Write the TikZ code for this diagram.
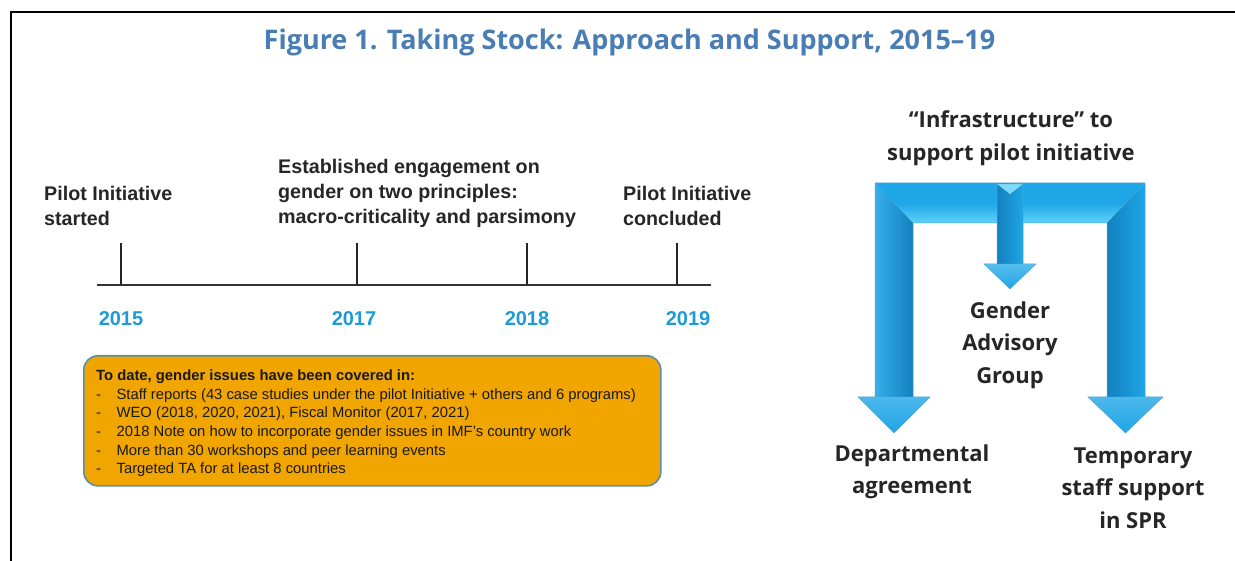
\documentclass[tikz,border=0pt]{standalone}
\usepackage{fontspec}
\setmainfont{Liberation Sans}
\newfontfamily\opfont{Open Sans}
\usetikzlibrary{shapes.misc}
\definecolor{titleblue}{HTML}{4A7DB3}
\definecolor{yearblue}{HTML}{1E9BD7}
\definecolor{arrowblue}{HTML}{1FA6E6}
\definecolor{arrowdark}{HTML}{1380BE}
\definecolor{arrowlight}{HTML}{5FD2FA}
\definecolor{boxorange}{HTML}{F0A500}
\definecolor{boxedge}{HTML}{5B8FA8}
\tikzset{
  frame/.style={line width=2.5pt, black},
  tltext/.style={font=\bfseries\fontsize{19.7}{25}\selectfont, align=left, anchor=west, inner sep=0pt, text=black!85},
  yeartext/.style={font=\bfseries\fontsize{20}{24}\selectfont, text=yearblue, inner sep=0pt},
  tick/.style={line width=2pt, black!85},
  axis/.style={line width=2.5pt, black!80},
  infobox/.style={draw=boxedge, line width=1.6pt, fill=boxorange, rounded corners=14pt},
  boxtext/.style={font=\fontsize{14.8}{18.7}\selectfont, align=left, anchor=north west, inner sep=0pt, text=black!90},
  righttext/.style={font=\opfont\bfseries\fontsize{22}{32.5}\selectfont, align=center, inner sep=0pt, text=black!85},
  arrowedge/.style={draw=arrowdark!70, line width=0.5pt, line join=miter},
}
\newcommand{\bul}{-\hspace{15.5pt}}
\begin{document}
\begin{tikzpicture}[x=1pt,y=-1pt]
\useasboundingbox (0,0) rectangle (1235,561);
\fill[white] (0,0) rectangle (1235,561);
% frame
\draw[frame] (11,575) -- (11,12) -- (1245,12);
% title
\node[font=\opfont\bfseries\fontsize{27}{30}\selectfont, text=titleblue, inner sep=0pt] (title) at (629.5,42) {Figure 1. Taking Stock: Approach and Support, 2015–19};

% timeline
\coordinate (axL) at (97,285);
\coordinate (axR) at (711,285);
\draw[axis] (axL) -- (axR);
\coordinate (t15) at (121,285);
\coordinate (t17) at (357,285);
\coordinate (t18) at (527,285);
\coordinate (t19) at (677,285);
\coordinate (t15u) at (121,243);
\coordinate (t17u) at (357,243);
\coordinate (t18u) at (527,243);
\coordinate (t19u) at (677,243);
\draw[tick] (t15) -- (t15u);
\draw[tick] (t17) -- (t17u);
\draw[tick] (t18) -- (t18u);
\draw[tick] (t19) -- (t19u);
\node[yeartext] (y15) at (121,319) {2015};
\node[yeartext] (y17) at (354,319) {2017};
\node[yeartext] (y18) at (527,319) {2018};
\node[yeartext] (y19) at (688,319) {2019};

\node[tltext] (e15) at (44,205.5) {Pilot Initiative\\started};
\node[tltext] (e17) at (278,193) {Established engagement on\\gender on two principles:\\macro-criticality and parsimony};
\node[tltext] (e19) at (623,205.5) {Pilot Initiative\\concluded};

% info box
\node[infobox, minimum width=577pt, minimum height=130pt, anchor=north west] (box) at (83,355) {};
\node[boxtext] (boxtxt) at (96,369.5) {\textbf{To date, gender issues have been covered in:}\\
\bul Staff reports (43 case studies under the pilot Initiative + others and 6 programs)\\
\bul WEO (2018, 2020, 2021), Fiscal Monitor (2017, 2021)\\
\bul 2018 Note on how to incorporate gender issues in IMF's country work\\
\bul More than 30 workshops and peer learning events\\
\bul Targeted TA for at least 8 countries};

% right side
\node[righttext] (infra) at (1011,138) {“Infrastructure” to\\support pilot initiative};

% big arrow: bar
\shade[top color=arrowblue, bottom color=arrowlight, middle color=arrowblue] (875,183) -- (1145,183) -- (1107,223) -- (913,223) -- cycle;
% left shaft
\shade[left color=arrowblue!90!white, right color=arrowdark] (875,183) -- (913,223) -- (913,397) -- (875,397) -- cycle;
% right shaft
\shade[left color=arrowdark, right color=arrowblue] (1145,183) -- (1107,223) -- (1107,397) -- (1145,397) -- cycle;
% heads
\shade[top color=arrowblue!80!white, bottom color=arrowblue] (858,397) -- (930,397) -- (894,433) -- cycle;
\shade[top color=arrowblue!80!white, bottom color=arrowblue] (1088,397) -- (1163,397) -- (1125.5,433) -- cycle;
\draw[arrowedge] (875,183) -- (1145,183) -- (1145,397) -- (1163,397) -- (1125.5,433)
  -- (1088,397) -- (1107,397) -- (1107,223) -- (913,223) -- (913,397) -- (930,397)
  -- (894,433) -- (858,397) -- (875,397) -- cycle;
% middle arrow
\shade[left color=arrowdark, right color=arrowblue] (997,184) rectangle (1023,264);
\shade[top color=arrowblue!75!white, bottom color=arrowblue] (984,264) -- (1036,264) -- (1010,289) -- cycle;
\fill[arrowlight!80!white] (997,184) -- (1023,184) -- (1010,194) -- cycle;
\draw[arrowedge] (997,184) -- (1023,184) -- (1023,264) -- (1036,264) -- (1010,289) -- (984,264) -- (997,264) -- cycle;

\node[righttext] (gag) at (1010,345) {Gender\\Advisory\\Group};
\node[righttext] (dept) at (912,472) {Departmental\\agreement};
\node[righttext] (temp) at (1133,488) {Temporary\\staff support\\in SPR};
\end{tikzpicture}
\end{document}
